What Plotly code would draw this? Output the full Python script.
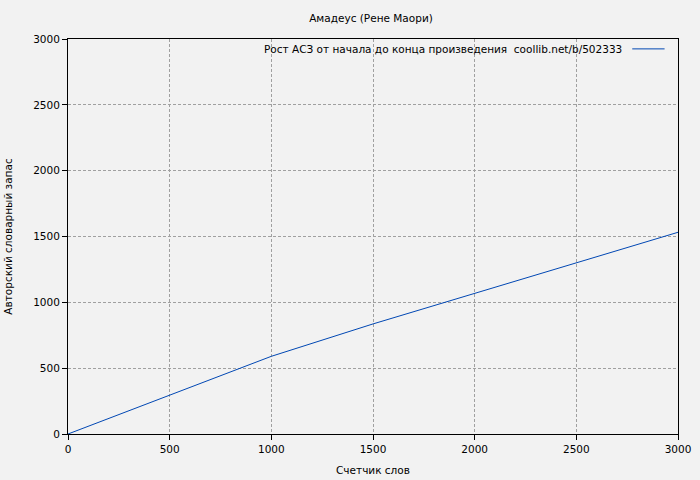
import plotly.graph_objects as go

title = "Амадеус (Рене Маори)"
x_label = "Счетчик слов"
y_label = "Авторский словарный запас"
series_name = "Рост АСЗ от начала до конца произведения  coollib.net/b/502333"

words = [0, 500, 1000, 1500, 2000, 2500, 3000]
vocab = [0, 296, 590, 836, 1068, 1298, 1532]

tick_vals = [0, 500, 1000, 1500, 2000, 2500, 3000]

line_color = "#0047b3"
font = dict(family="DejaVu Sans", size=10.5, color="#000000")

fig = go.Figure()
fig.add_trace(go.Scatter(x=words, y=vocab, mode="lines",
                         line=dict(color=line_color, width=1),
                         name=series_name, showlegend=False))

axis_common = dict(showline=True, linecolor="#000000", linewidth=1, mirror=True,
                   ticks="outside", ticklen=5, tickcolor="#000000",
                   showgrid=True, gridcolor="#a0a0a0", griddash="3px,2px", gridwidth=1,
                   zeroline=False, tickfont=font, tickvals=tick_vals, automargin=False)

fig.update_xaxes(range=[0, 3000], title=dict(text=x_label, font=font, standoff=13), **axis_common)
fig.update_yaxes(range=[0, 3000], title=dict(text=y_label, font=font, standoff=18), **axis_common)

fig.add_annotation(x=0.911, y=0.975, xref="paper", yref="paper", xanchor="right", yanchor="middle",
                   text=series_name, showarrow=False, font=font)
fig.add_shape(type="line", xref="paper", yref="paper", x0=0.925, x1=0.978, y0=0.975, y1=0.975,
              line=dict(color=line_color, width=1))

fig.update_layout(
    width=700, height=480,
    paper_bgcolor="#f2f2f2", plot_bgcolor="#f2f2f2",
    margin=dict(l=68, r=22, t=39, b=46),
    title=dict(text=title, x=0.53, xanchor="center", y=0.962, yanchor="middle", font=font),
    font=font,
)

post = """
var s=document.createElement('style');
s.innerHTML='html,body{margin:0;padding:0;width:700px;height:480px;overflow:hidden;background:#f2f2f2;}';
document.head.appendChild(s);
"""

fig.write_html("out.html", config={"displayModeBar": False}, post_script=post)
